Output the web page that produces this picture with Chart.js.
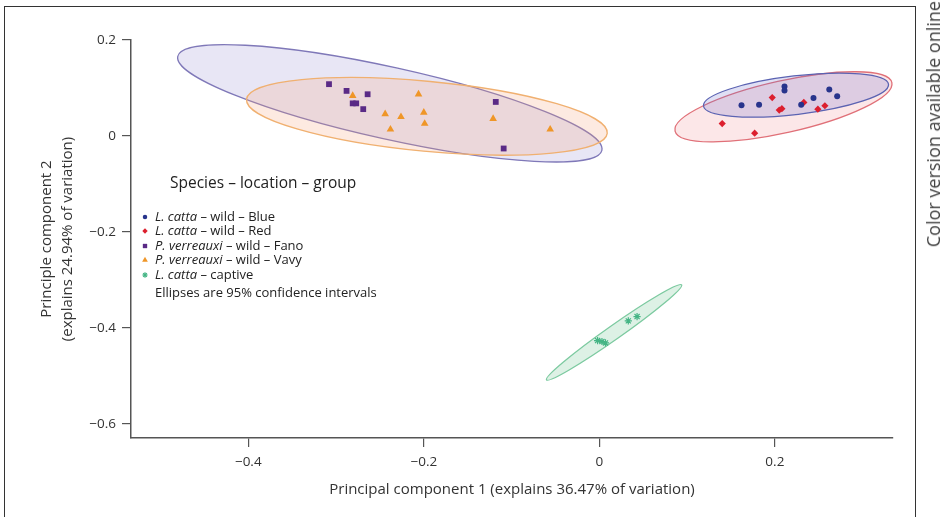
<!DOCTYPE html>
<html>
<head>
<meta charset="utf-8">
<script src="https://cdn.jsdelivr.net/npm/chart.js@4.4.0/dist/chart.umd.min.js"></script>
<style>
    html, body { margin: 0; padding: 0; background: #fff; }
    #wrap { position: relative; width: 942px; height: 517px; overflow: hidden; font-family: 'Open Sans', 'Noto Sans', sans-serif; color: #333; }
    #frame { position: absolute; left: 4px; top: 6px; width: 912px; height: 540px; border: 1.5px solid #333; box-sizing: border-box; pointer-events: none; }
    #online { position: absolute; left: 924px; top: 1px; white-space: nowrap; font-size: 18px; line-height: 18px; color: #444;
              transform-origin: 0 0; transform: rotate(-90deg) translateX(-100%); }
    #legend { position: absolute; left: 140px; top: 173px; color: #222; }
    #legend .ttl { font-size: 15.5px; line-height: 18px; margin-left: 30px; margin-bottom: 17.75px; white-space: nowrap; }
    #legend .row { font-size: 13px; line-height: 14.5px; height: 14.5px; white-space: nowrap; }
    #legend .row canvas { width: 10px; height: 10px; margin-right: 5px; vertical-align: -1px; }
    #legend .note { font-size: 13px; line-height: 14.5px; margin-top: 3.5px; margin-left: 15px; white-space: nowrap; }
</style>
</head>
<body>
<div id="wrap">
    <canvas id="pcaChart" width="942" height="517"></canvas>
    <div id="frame"></div>
    <div id="online">Color version available online</div>
    <div id="legend"></div>
</div>
<script>
// axis ticks
const xTicks = [-0.4, -0.2, 0, 0.2];
const yTicks = [-0.6, -0.4, -0.2, 0, 0.2];

// L. catta - wild - Blue
const blueX = [0.162, 0.182, 0.211, 0.211, 0.230, 0.244, 0.262, 0.271];
const blueY = [0.064, 0.065, 0.103, 0.095, 0.065, 0.079, 0.097, 0.083];
// L. catta - wild - Red
const redX = [0.140, 0.177, 0.197, 0.205, 0.208, 0.233, 0.249, 0.257];
const redY = [0.026, 0.006, 0.080, 0.054, 0.057, 0.070, 0.056, 0.063];
// P. verreauxi - wild - Fano
const fanoX = [-0.308, -0.288, -0.264, -0.281, -0.277, -0.269, -0.118, -0.109];
const fanoY = [0.108, 0.094, 0.087, 0.068, 0.068, 0.056, 0.071, -0.026];
// P. verreauxi - wild - Vavy
const vavyX = [-0.281, -0.206, -0.244, -0.226, -0.200, -0.199, -0.238, -0.121, -0.056];
const vavyY = [0.084, 0.087, 0.046, 0.040, 0.049, 0.026, 0.014, 0.036, 0.014];
// L. catta - captive
const captiveX = [-0.002, 0.003, 0.007, 0.033, 0.043];
const captiveY = [-0.426, -0.428, -0.431, -0.385, -0.376];

// 95% confidence ellipses: centre and two conjugate semi-diameters (data units)
// order: Blue, Red, Fano, Vavy, Captive
const ellCx = [0.2241, 0.2098, -0.2387, -0.1965, 0.0168];
const ellCy = [0.0852, 0.0608, 0.0681, 0.0410, -0.4090];
const ellUx = [0.1054, 0.1235, 0.2416, 0.2055, 0.0770];
const ellUy = [0.0226, 0.0504, -0.0979, -0.0355, 0.0990];
const ellVx = [0.0026, 0.0065, -0.0089, -0.0038, 0.0046];
const ellVy = [-0.0399, -0.0529, -0.0732, -0.0726, -0.0119];

const labels = [
    'L. catta – wild – Blue',
    'L. catta – wild – Red',
    'P. verreauxi – wild – Fano',
    'P. verreauxi – wild – Vavy',
    'L. catta – captive'
];

function pts(xs, ys) {
    return xs.map((v, i) => ({ x: v, y: ys[i] }));
}

function fmt(v) {
    if (Math.abs(v) < 1e-9) return '0';
    return v.toFixed(1).replace('-', '\u2212');
}

const ellipseStyle = [
    { fill: 'rgba(110,110,205,0.22)', stroke: '#5b63b2' },
    { fill: 'rgba(240,110,120,0.17)', stroke: '#e07078' },
    { fill: 'rgba(125,115,200,0.18)', stroke: '#7f78b8' },
    { fill: 'rgba(248,160,120,0.22)', stroke: '#f0b070' },
    { fill: 'rgba(120,200,150,0.25)', stroke: '#7ccaa0' }
];
const ellipseOrder = [2, 3, 1, 0, 4];

const ellipsePlugin = {
    id: 'ellipses',
    beforeDatasetsDraw(chart) {
        const { ctx, scales: { x, y } } = chart;
        const ox = x.getPixelForValue(0), oy = y.getPixelForValue(0);
        const sx = x.getPixelForValue(1) - ox;
        const sy = y.getPixelForValue(1) - oy;
        ellipseOrder.forEach(i => {
            const cx = x.getPixelForValue(ellCx[i]);
            const cy = y.getPixelForValue(ellCy[i]);
            ctx.save();
            ctx.beginPath();
            ctx.transform(ellUx[i] * sx, ellUy[i] * sy, ellVx[i] * sx, ellVy[i] * sy, cx, cy);
            ctx.arc(0, 0, 1, 0, Math.PI * 2);
            ctx.closePath();
            ctx.restore();
            ctx.save();
            ctx.fillStyle = ellipseStyle[i].fill;
            ctx.strokeStyle = ellipseStyle[i].stroke;
            ctx.lineWidth = 1.3;
            ctx.fill();
            ctx.stroke();
            ctx.restore();
        });
    }
};

const htmlLegendPlugin = {
    id: 'htmlLegend',
    afterUpdate(chart) {
        const box = document.getElementById('legend');
        box.innerHTML = '';
        const ttl = document.createElement('div');
        ttl.className = 'ttl';
        ttl.textContent = 'Species – location – group';
        box.appendChild(ttl);
        chart.data.datasets.forEach(ds => {
            const row = document.createElement('div');
            row.className = 'row';
            const c = document.createElement('canvas');
            c.width = 10; c.height = 10;
            const cctx = c.getContext('2d');
            cctx.fillStyle = ds.backgroundColor;
            cctx.strokeStyle = ds.borderColor;
            cctx.lineWidth = ds.borderWidth;
            if (Chart.helpers && Chart.helpers.drawPoint) {
                Chart.helpers.drawPoint(cctx, { pointStyle: ds.pointStyle, radius: ds.pointRadius * 0.75, rotation: 0, borderWidth: ds.borderWidth }, 5, 5);
            } else {
                cctx.fillRect(2, 2, 6, 6);
            }
            row.appendChild(c);
            const cut = ds.label.indexOf(' – ');
            const it = document.createElement('i');
            it.textContent = ds.label.slice(0, cut);
            row.appendChild(it);
            row.appendChild(document.createTextNode(ds.label.slice(cut)));
            box.appendChild(row);
        });
        const note = document.createElement('div');
        note.className = 'note';
        note.textContent = 'Ellipses are 95% confidence intervals';
        box.appendChild(note);
    }
};

const tickFont = { family: "'Open Sans', 'Noto Sans', sans-serif", size: 13.5 };
const titleFont = { family: "'Open Sans', 'Noto Sans', sans-serif", size: 15, lineHeight: 1.4 };

new Chart(document.getElementById('pcaChart'), {
    type: 'scatter',
    data: {
        datasets: [
            { label: labels[0], data: pts(blueX, blueY), pointStyle: 'circle', pointRadius: 3, backgroundColor: '#28348c', borderColor: '#28348c', borderWidth: 0 },
            { label: labels[1], data: pts(redX, redY), pointStyle: 'rectRot', pointRadius: 3.6, backgroundColor: '#dc1f2e', borderColor: '#dc1f2e', borderWidth: 0 },
            { label: labels[2], data: pts(fanoX, fanoY), pointStyle: 'rect', pointRadius: 4.1, backgroundColor: '#5a2a86', borderColor: '#5a2a86', borderWidth: 0 },
            { label: labels[3], data: pts(vavyX, vavyY), pointStyle: 'triangle', pointRadius: 4.4, backgroundColor: '#ef9628', borderColor: '#ef9628', borderWidth: 0 },
            { label: labels[4], data: pts(captiveX, captiveY), pointStyle: 'star', pointRadius: 3.6, backgroundColor: '#45b585', borderColor: '#45b585', borderWidth: 1.2 }
        ]
    },
    options: {
        responsive: false,
        animation: false,
        devicePixelRatio: 1,
        layout: { padding: { top: 40, right: 49, left: 0, bottom: 0 } },
        plugins: {
            legend: { display: false },
            tooltip: { enabled: false }
        },
        scales: {
            x: {
                type: 'linear',
                min: -0.5336,
                max: 0.3346,
                afterBuildTicks: s => { s.ticks = xTicks.map(v => ({ value: v })); },
                afterFit: s => { s.height = 79; },
                ticks: { callback: v => fmt(v), color: '#333', font: tickFont, padding: 7, maxRotation: 0 },
                grid: { drawOnChartArea: false, drawTicks: true, tickLength: 9, color: '#555', lineWidth: 1.2 },
                border: { display: true, color: '#555', width: 1.5 },
                title: { display: true, text: 'Principal component 1 (explains 36.47% of variation)', color: '#333', font: titleFont, padding: { top: 0, bottom: 16.5 } }
            },
            y: {
                type: 'linear',
                min: -0.629,
                max: 0.2,
                afterBuildTicks: s => { s.ticks = yTicks.map(v => ({ value: v })); },
                afterFit: s => { s.width = 131; },
                ticks: { callback: v => fmt(v), color: '#333', font: tickFont, padding: 6 },
                grid: { drawOnChartArea: false, drawTicks: true, tickLength: 9, color: '#555', lineWidth: 1.2 },
                border: { display: true, color: '#555', width: 1.5 },
                title: { display: true, text: ['Principle component 2', '(explains 24.94% of variation)'], color: '#333', font: titleFont, padding: { top: 36.5, bottom: 0 } }
            }
        }
    },
    plugins: [ellipsePlugin, htmlLegendPlugin]
});
</script>
</body>
</html>
